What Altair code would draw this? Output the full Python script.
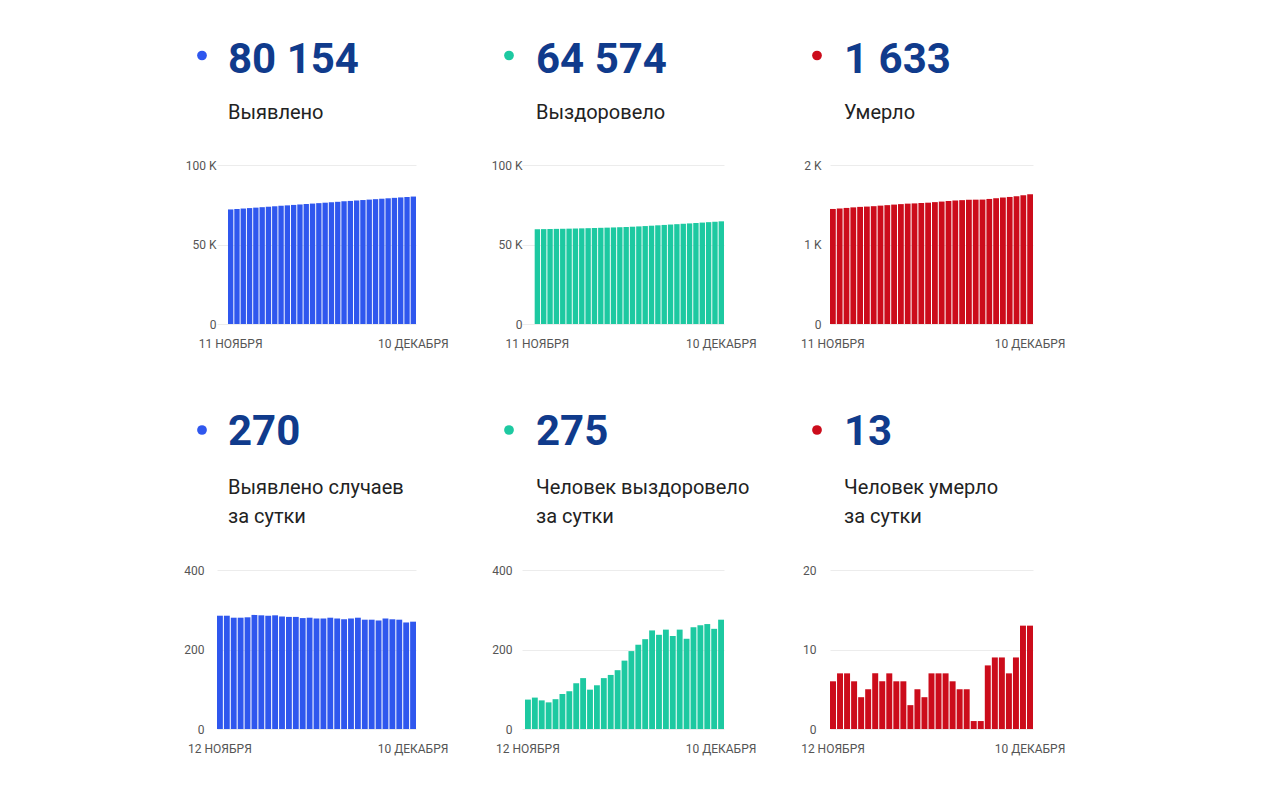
import altair as alt
import pandas as pd

# Day categories: cumulative series start on 11 Nov, daily series on 12 Nov
days_total = [f"{d} НОЯБРЯ" for d in range(11, 31)] + [f"{d} ДЕКАБРЯ" for d in range(1, 11)]
days_daily = days_total[1:]

confirmed_total = [72055, 72340, 72625, 72905, 73185, 73466, 73753, 74039, 74324, 74610,
                   74893, 75175, 75457, 75736, 76016, 76294, 76572, 76852, 77130, 77406,
                   77684, 77964, 78239, 78514, 78787, 79065, 79341, 79616, 79884, 80154]
recovered_total = [59600, 59674, 59753, 59825, 59892, 59967, 60055, 60150, 60265, 60393,
                   60492, 60602, 60730, 60866, 61014, 61186, 61382, 61594, 61820, 62068,
                   62305, 62555, 62789, 63039, 63266, 63522, 63783, 64047, 64299, 64574]
deaths_total = [1447, 1453, 1460, 1467, 1473, 1477, 1482, 1489, 1495, 1502,
                1508, 1514, 1517, 1522, 1526, 1533, 1540, 1547, 1553, 1558,
                1563, 1564, 1565, 1573, 1582, 1591, 1598, 1607, 1620, 1633]

confirmed_daily = [285, 285, 280, 280, 281, 287, 286, 285, 286, 283, 282, 282, 279, 280, 278,
                   278, 280, 278, 276, 278, 280, 275, 275, 273, 278, 276, 275, 268, 270]
recovered_daily = [74, 79, 72, 67, 75, 88, 95, 115, 128, 99, 110, 128, 136, 148, 172,
                   196, 212, 226, 248, 237, 250, 234, 250, 227, 256, 261, 264, 252, 275]
deaths_daily = [6, 7, 7, 6, 4, 5, 7, 6, 7, 6, 6, 3, 5, 4, 7,
                7, 7, 6, 5, 5, 1, 1, 8, 9, 9, 7, 9, 13, 13]

headline = ["80 154", "64 574", "1 633", "270", "275", "13"]
captions = ["Выявлено", "Выздоровело", "Умерло",
            "Выявлено случаев\nза сутки", "Человек выздоровело\nза сутки", "Человек умерло\nза сутки"]
y_max = [100000, 100000, 2000, 400, 400, 20]

BLUE = "#2f57ee"
TEAL = "#1dc9a1"
RED = "#cc0c1b"
NAVY = "#103b8c"
FONT = "Roboto"
PAD_INNER = 0.15
PLOT_H = 159


def panel(days, values, color, number, caption, ymax, width, inset, label_pad,
          dot_dx, text_dx, dot_dy, num_dy, cap_dy):
    n = len(days)
    step = (width - inset) / (n - PAD_INNER)
    pad_outer = min(1.0, inset / (2 * step))
    df = pd.DataFrame({"day": days, "value": values})
    bars = alt.Chart(df).mark_bar(color=color).encode(
        x=alt.X(
            "day:O", sort=None, title=None,
            scale=alt.Scale(paddingInner=PAD_INNER, paddingOuter=pad_outer, align=1),
            axis=alt.Axis(values=[days[0], days[-1]], labelAngle=0, domain=False, ticks=False,
                          labelPadding=14, labelOverlap=False, labelBound=False, labelFlush=False,
                          labelFont=FONT, labelFontSize=12, labelColor="#555555"),
        ),
        y=alt.Y(
            "value:Q", title=None,
            scale=alt.Scale(domain=[0, ymax], nice=False),
            axis=alt.Axis(values=[0, ymax / 2, ymax], domain=False, ticks=False, tickSize=0,
                          labelPadding=label_pad, grid=True, gridColor="#ececec",
                          labelExpr="datum.value >= 1000 ? (datum.value / 1000) + ' K' : datum.value",
                          labelFont=FONT, labelFontSize=12, labelColor="#555555"),
        ),
    )
    head = pd.DataFrame({"number": [number], "caption": [caption]})
    dot = alt.Chart(head).mark_circle(color=color, size=95, opacity=1).encode(
        x=alt.value(dot_dx), y=alt.value(dot_dy))
    num = alt.Chart(head).mark_text(
        font=FONT, fontSize=42, fontWeight="bold", color=NAVY, align="left", baseline="alphabetic"
    ).encode(text="number:N", x=alt.value(text_dx), y=alt.value(num_dy))
    cap = alt.Chart(head).mark_text(
        font=FONT, fontSize=20, color="#222222", align="left", baseline="alphabetic",
        lineBreak="\n", lineHeight=29
    ).encode(text="caption:N", x=alt.value(text_dx), y=alt.value(cap_dy))
    return alt.layer(bars, dot, num, cap).properties(width=width, height=PLOT_H)


TOP = dict(dot_dy=-109.5, num_dy=-92, cap_dy=-46)
BOT = dict(dot_dy=-140, num_dy=-125, cap_dy=-76)

panels = [
    panel(days_total, confirmed_total, BLUE, headline[0], captions[0], y_max[0],
          199, 11, 1, -15, 11, **TOP),
    panel(days_total, recovered_total, TEAL, headline[1], captions[1], y_max[1],
          202, 14, 0, -13, 14, **TOP),
    panel(days_total, deaths_total, RED, headline[2], captions[2], y_max[2],
          203, 0, 9, -13, 14, **TOP),
    panel(days_daily, confirmed_daily, BLUE, headline[3], captions[3], y_max[3],
          199, 0, 13, -15, 11, **BOT),
    panel(days_daily, recovered_daily, TEAL, headline[4], captions[4], y_max[4],
          202, 3, 10, -13, 14, **BOT),
    panel(days_daily, deaths_daily, RED, headline[5], captions[5], y_max[5],
          203, 0, 14, -13, 14, **BOT),
]

chart = alt.concat(
    *panels, columns=3, spacing={"row": 246, "column": 106}, bounds="flush", align="each"
).properties(
    padding={"left": 183, "top": 39, "right": 10, "bottom": 10},
    background="white",
).configure_view(stroke=None)

chart.save("out.html", embed_options={"renderer": "svg", "actions": False})
